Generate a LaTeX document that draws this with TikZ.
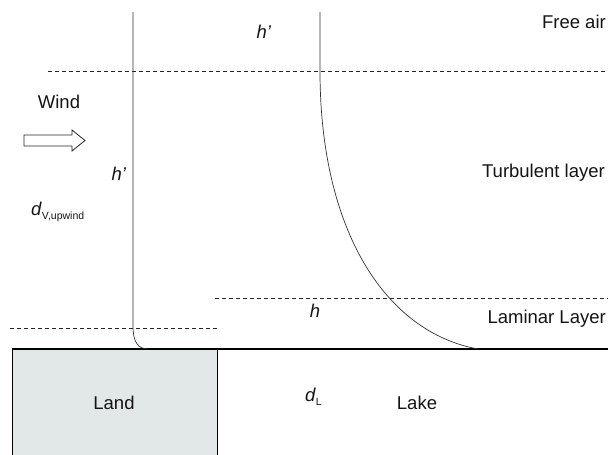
\documentclass[tikz,border=0pt]{standalone}
\usepackage{fontspec}
\setmainfont{Liberation Sans}
\definecolor{landgray}{HTML}{E2E7E7}
\definecolor{linegray}{HTML}{333333}
\begin{document}
\begin{tikzpicture}[x=1pt,y=-1pt,
  lbl/.style={font=\fontsize{18.5}{21}\selectfont, inner sep=0pt, text=black!92},
  dashln/.style={draw=black!85, line width=0.8pt, dash pattern=on 4pt off 3pt},
  prof/.style={draw=linegray, line width=0.7pt},
]
\useasboundingbox (0,0) rectangle (608,455);
% land
\draw[fill=landgray, draw=black, line width=0.9pt] (12,349) rectangle (217,458);
\draw[line width=1.4pt, draw=black] (12,349) -- (608,349);
% dashed layer lines
\coordinate (t1) at (48,71);  \coordinate (t2) at (608,71);
\coordinate (m1) at (215,298); \coordinate (m2) at (608,298);
\coordinate (l1) at (10,328); \coordinate (l2) at (217,328);
\draw[dashln] (t1) -- (t2);
\draw[dashln] (m1) -- (m2);
\draw[dashln] (l1) -- (l2);
% left profile
\coordinate (a0) at (133,12);
\coordinate (a1) at (133,326);
\coordinate (a2) at (148,349);
\draw[prof] (a0) -- (a1) .. controls (133,342) and (138,349) .. (a2);
% right profile
\coordinate (b0) at (320,12);
\coordinate (b1) at (320,71);
\coordinate (b2) at (478,349);
\draw[prof] (b0) -- (b1) .. controls (320,230) and (385,332) .. (b2);
% wind arrow
\draw[draw=black!85, line width=0.8pt, fill=white] (24,135) -- (72,135) -- (72,130) -- (85,140.5) -- (72,151) -- (72,146) -- (24,146) -- cycle;
% labels
\node[lbl] (wind) at (59,102) {Wind};
\node[lbl, anchor=east] (free) at (606,22) {Free air};
\node[lbl, anchor=east] (turb) at (605,173) {Turbulent layer};
\node[lbl, anchor=east] (lam) at (606,319) {Laminar Layer};
\node[lbl] (htop) at (264,32) {\textit{h'}};
\node[lbl] (hleft) at (119,174) {\textit{h'}};
\node[lbl] (hlow) at (315,311) {\textit{h}};
\node[lbl, anchor=base west] (dv) at (31,215) {\textit{d}\raisebox{-0.5ex}{\fontsize{10.5}{12}\selectfont V,upwind}};
\node[lbl] (land) at (114,403) {Land};
\node[lbl, anchor=base west] (dl) at (305,401) {\textit{d}\raisebox{-0.5ex}{\fontsize{10.5}{12}\selectfont L}};
\node[lbl] (lake) at (417,403) {Lake};
\end{tikzpicture}
\end{document}
